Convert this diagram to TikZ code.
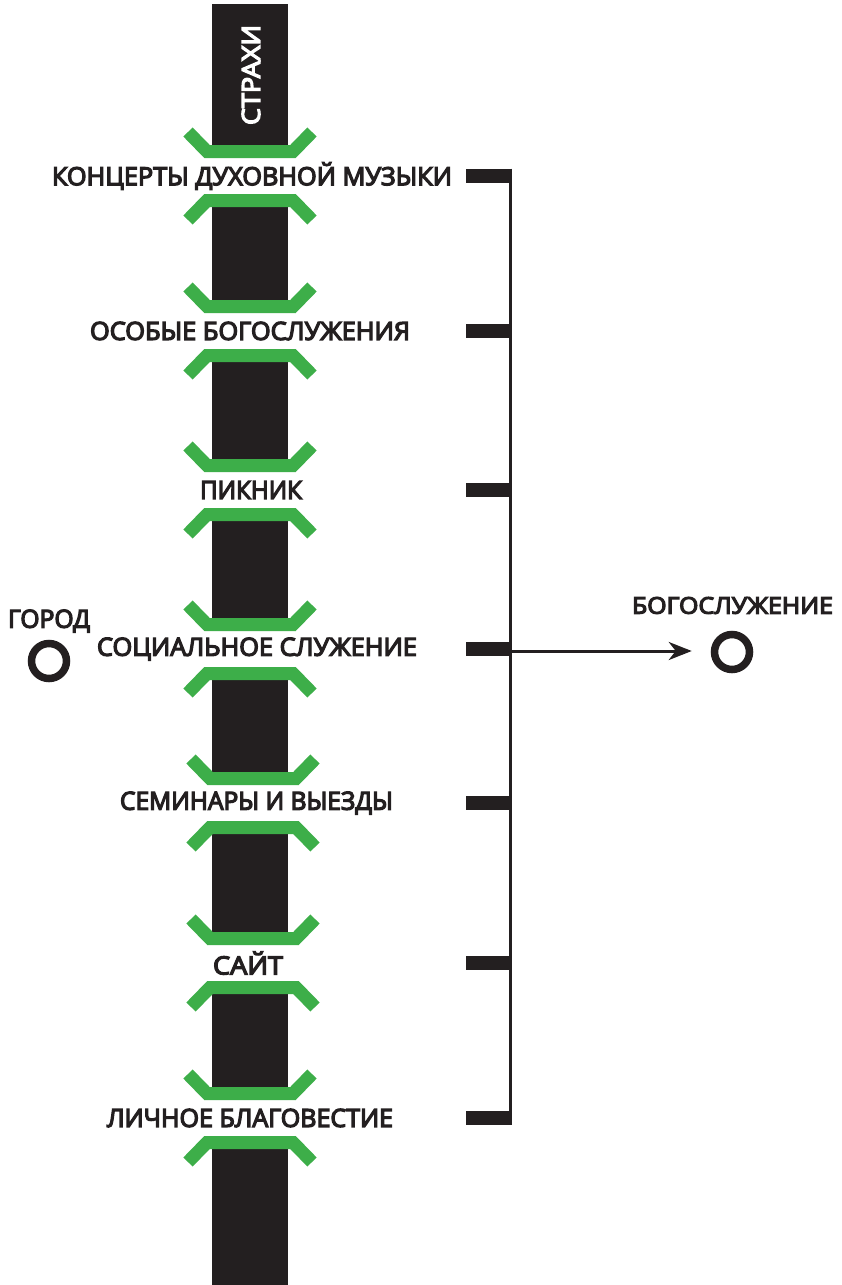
\documentclass[tikz,border=0pt]{standalone}
\usepackage{fontspec}
\setmainfont{Open Sans}
\newfontfamily\labfont{Open Sans}[UprightFeatures={FakeBold=5}]
\usetikzlibrary{arrows.meta}
\definecolor{barc}{HTML}{231F20}
\definecolor{grn}{HTML}{3DAE49}
\newcommand\fitw[2]{\resizebox{#1}{\height}{#2}}
\begin{document}
\begin{tikzpicture}[x=1pt,y=-1pt,
  bk/.style={draw=grn,line width=13pt},
  lab/.style={font=\labfont\fontsize{25}{27}\selectfont,text=barc,inner sep=0pt,anchor=center},
  tickbox/.style={fill=barc,minimum width=46pt,minimum height=14pt,inner sep=0pt,outer sep=0pt},
  spine/.style={draw=barc,line width=3pt},
  ring/.style={circle,draw=barc,line width=7.5pt,minimum size=35pt,inner sep=0pt}]
\useasboundingbox (0,0) rectangle (841,1285);
% main bar
\fill[barc] (212,4) rectangle (288,1285);
\node[lab,text=white,rotate=90] (strahi) at (251,75) {\fitw{100pt}{СТРАХИ}};
\foreach \y/\t/\x/\w/\dx [count=\i] in {
  176/{КОНЦЕРТЫ ДУХОВНОЙ МУЗЫКИ}/252/400/0,
  331/{ОСОБЫЕ БОГОСЛУЖЕНИЯ}/250/320/0,
  490/{ПИКНИК}/251/102/0,
  649/{СОЦИАЛЬНОЕ СЛУЖЕНИЕ}/257/320/0,
  803/{СЕМИНАРЫ И ВЫЕЗДЫ}/256.5/273/3,
  963/{САЙТ}/248/70/3,
  1118/{ЛИЧНОЕ БЛАГОВЕСТИЕ}/250/286/0}{
  \fill[white] (212,\y-24.5) rectangle (288,\y+24.5);
  \draw[bk] (188+\dx,\y-44) -- (207+\dx,\y-24.5) -- (293+\dx,\y-24.5) -- (312+\dx,\y-44);
  \draw[bk] (188+\dx,\y+44) -- (207+\dx,\y+24.5) -- (293+\dx,\y+24.5) -- (312+\dx,\y+44);
  \node[lab] (l\i) at (\x,\y) {\fitw{\w pt}{\t}};
  \node[tickbox] (t\i) at (489,\y-0.5) {};
}
\draw[spine] ([xshift=-1.5pt]t1.north east) -- ([xshift=-1.5pt]t7.south east);
% left
\node[lab] (gorodt) at (49,621) {\fitw{82pt}{ГОРОД}};
\node[ring] (gorod) at (49,661) {};
% right
\node[lab,font=\labfont\fontsize{23}{25}\selectfont] (bogt) at (732.5,605.5) {\fitw{201pt}{БОГОСЛУЖЕНИЕ}};
\node[ring] (bog) at (732,652) {};
\coordinate (j) at (511.5,651);
\draw[draw=barc,line width=3pt,-{Stealth[length=23pt,width=18pt,inset=7pt]}] (j) -- ([xshift=-19pt]bog.west |- j);
\end{tikzpicture}
\end{document}
